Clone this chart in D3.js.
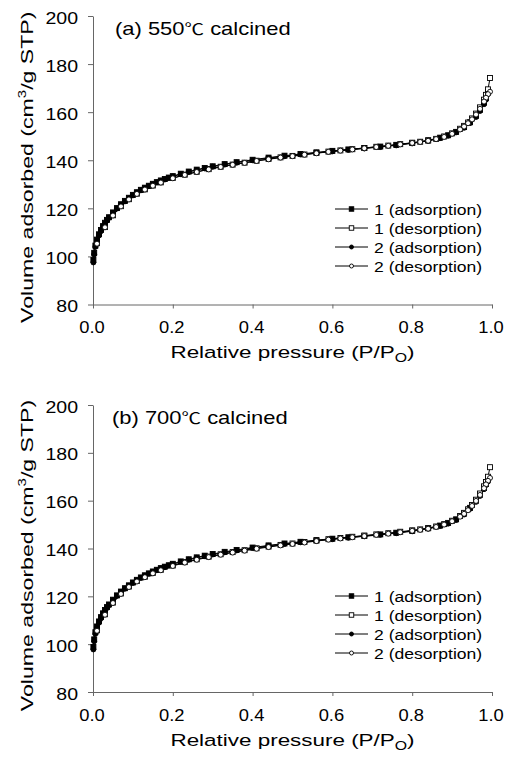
<!DOCTYPE html>
<html>
<head>
<meta charset="utf-8">
<script src="https://cdn.jsdelivr.net/npm/d3@7"></script>
<style>
  body { margin: 0; background: #fff; }
  svg { display: block; }
  text { font-family: "Liberation Sans", Arial, "Noto Sans CJK KR", sans-serif; fill: #000; }
</style>
</head>
<body>
<svg id="chart" width="505" height="764"></svg>
<script>
// ---------------- DATA ----------------
const xTicks = [0.0, 0.2, 0.4, 0.6, 0.8, 1.0];
const yTicks = [80, 100, 120, 140, 160, 180, 200];
const panelTitleParts = [["(a) 550", "\u2103", " calcined"], ["(b) 700", "\u2103", " calcined"]];
const legendLabels = ["1 (adsorption)", "1 (desorption)", "2 (adsorption)", "2 (desorption)"];

const adsP = [0.001, 0.003, 0.006, 0.01, 0.015, 0.02, 0.025, 0.03, 0.035, 0.04, 0.05, 0.06, 0.07, 0.08, 0.09, 0.10, 0.11, 0.12, 0.13, 0.14, 0.15, 0.16, 0.17, 0.18, 0.19, 0.20, 0.22, 0.24, 0.26, 0.28, 0.30, 0.33, 0.36, 0.40, 0.44, 0.48, 0.52, 0.56, 0.60, 0.64, 0.68, 0.72, 0.76, 0.80, 0.84, 0.87, 0.89, 0.91, 0.93, 0.945, 0.96, 0.97, 0.98, 0.985, 0.99];
const desP = [0.995, 0.99, 0.985, 0.98, 0.97, 0.96, 0.95, 0.94, 0.93, 0.92, 0.90, 0.88, 0.86, 0.84, 0.82, 0.80, 0.77, 0.74, 0.71, 0.68, 0.65, 0.62, 0.59, 0.56, 0.53, 0.50, 0.47, 0.44, 0.41, 0.38, 0.35, 0.32, 0.29, 0.26, 0.23, 0.20, 0.17, 0.15, 0.13, 0.11, 0.09, 0.07, 0.05, 0.03, 0.01];

// Panel (a) 550C
const a1Ads = [98.5, 101.5, 104.5, 107, 109.2, 111, 112.6, 114, 115.2, 116.3, 118.3, 120.1, 121.7, 123.1, 124.4, 125.6, 126.7, 127.7, 128.6, 129.4, 130.2, 130.9, 131.6, 132.2, 132.8, 133.4, 134.4, 135.3, 136.1, 136.8, 137.5, 138.4, 139.2, 140.2, 141.1, 141.9, 142.6, 143.3, 143.9, 144.5, 145.1, 145.7, 146.4, 147.2, 148.3, 149.4, 150.4, 151.8, 153.8, 155.8, 158.5, 161.0, 164.0, 166.0, 168.5];
const a1Des = [174.2, 169.5, 167.2, 165.2, 162.0, 159.4, 157.4, 155.7, 154.3, 153.1, 151.2, 149.9, 148.9, 148.2, 147.7, 147.3, 146.7, 146.1, 145.6, 145.1, 144.6, 144.1, 143.6, 143.0, 142.4, 141.8, 141.2, 140.5, 139.8, 139.0, 138.2, 137.3, 136.3, 135.2, 134.0, 132.6, 130.8, 129.5, 127.9, 126.1, 123.8, 120.9, 117.1, 112.2, 105.5];
const a2Ads = [97.5, 100.8, 104, 106.6, 108.8, 110.7, 112.3, 113.7, 115, 116.1, 118.1, 119.9, 121.5, 122.9, 124.2, 125.4, 126.5, 127.5, 128.4, 129.2, 130, 130.7, 131.4, 132.0, 132.6, 133.2, 134.2, 135.1, 135.9, 136.6, 137.3, 138.2, 139.0, 140.0, 140.9, 141.7, 142.4, 143.1, 143.7, 144.3, 144.9, 145.5, 146.2, 147.0, 148.1, 149.2, 150.2, 151.6, 153.5, 155.5, 158.0, 160.5, 163.3, 165.2, 167.5];
const a2Des = [168.5, 167.5, 166.0, 164.4, 161.4, 159.0, 157.0, 155.4, 154.0, 152.8, 151.0, 149.7, 148.8, 148.1, 147.6, 147.2, 146.6, 146.0, 145.5, 145.0, 144.5, 144.0, 143.5, 142.9, 142.3, 141.7, 141.1, 140.4, 139.7, 138.9, 138.1, 137.2, 136.2, 135.1, 133.9, 132.5, 130.7, 129.4, 127.8, 126.0, 123.7, 120.8, 117.0, 112.1, 105.3];

// Panel (b) 700C
const b1Ads = [98.8, 102.0, 105.0, 107.4, 109.5, 111.3, 112.9, 114.3, 115.5, 116.6, 118.6, 120.4, 122.0, 123.4, 124.6, 125.8, 126.9, 127.9, 128.8, 129.6, 130.4, 131.1, 131.8, 132.4, 133.0, 133.6, 134.6, 135.5, 136.3, 137.0, 137.7, 138.6, 139.4, 140.4, 141.3, 142.1, 142.8, 143.5, 144.1, 144.7, 145.3, 145.9, 146.6, 147.4, 148.5, 149.6, 150.7, 152.2, 154.6, 157.0, 160.0, 162.5, 165.3, 167.0, 169.0];
const b1Des = [174.0, 170.0, 167.8, 166.0, 163.0, 160.4, 158.2, 156.4, 154.9, 153.6, 151.6, 150.2, 149.2, 148.5, 148.0, 147.6, 147.0, 146.4, 145.9, 145.4, 144.9, 144.4, 143.9, 143.3, 142.7, 142.1, 141.5, 140.8, 140.1, 139.3, 138.5, 137.6, 136.6, 135.5, 134.3, 132.9, 131.1, 129.8, 128.2, 126.4, 124.1, 121.2, 117.4, 112.5, 105.8];
const b2Ads = [97.8, 101.2, 104.4, 107.0, 109.1, 111.0, 112.6, 114.0, 115.3, 116.4, 118.4, 120.2, 121.8, 123.2, 124.4, 125.6, 126.7, 127.7, 128.6, 129.4, 130.2, 130.9, 131.6, 132.2, 132.8, 133.4, 134.4, 135.3, 136.1, 136.8, 137.5, 138.4, 139.2, 140.2, 141.1, 141.9, 142.6, 143.3, 143.9, 144.5, 145.1, 145.7, 146.4, 147.2, 148.3, 149.4, 150.4, 151.9, 154.2, 156.6, 159.5, 162.0, 164.8, 166.5, 168.0];
const b2Des = [169.5, 168.3, 166.8, 165.2, 162.4, 159.9, 157.8, 156.0, 154.5, 153.3, 151.4, 150.0, 149.0, 148.3, 147.8, 147.4, 146.8, 146.2, 145.7, 145.2, 144.7, 144.2, 143.7, 143.1, 142.5, 141.9, 141.3, 140.6, 139.9, 139.1, 138.3, 137.4, 136.4, 135.3, 134.1, 132.7, 130.9, 129.6, 128.0, 126.2, 123.9, 121.0, 117.2, 112.3, 105.6];

// ---------------- LAYOUT ----------------
const svg = d3.select("#chart");

const panels = [
  { top: 16, bottom: 304.5, left: 93, right: 492, title: panelTitleParts[0], titleDx: 22, legendY: 209,
    series: [
      { p: adsP, v: a1Ads, shape: "square", fill: "#000" },
      { p: desP, v: a1Des, shape: "square", fill: "#fff" },
      { p: adsP, v: a2Ads, shape: "circle", fill: "#000" },
      { p: desP, v: a2Des, shape: "circle", fill: "#fff" }
    ] },
  { top: 405, bottom: 692, left: 93, right: 492, title: panelTitleParts[1], titleDx: 19, legendY: 596,
    series: [
      { p: adsP, v: b1Ads, shape: "square", fill: "#000" },
      { p: desP, v: b1Des, shape: "square", fill: "#fff" },
      { p: adsP, v: b2Ads, shape: "circle", fill: "#000" },
      { p: desP, v: b2Des, shape: "circle", fill: "#fff" }
    ] }
];

function drawMarker(g, shape, fill, cx, cy, s) {
  if (shape === "square") {
    g.append("rect").attr("x", cx - s / 2).attr("y", cy - s / 2).attr("width", s).attr("height", s)
      .attr("fill", fill).attr("stroke", "#000").attr("stroke-width", 0.9);
  } else {
    g.append("circle").attr("cx", cx).attr("cy", cy).attr("r", s / 2)
      .attr("fill", fill).attr("stroke", "#000").attr("stroke-width", 0.9);
  }
}

panels.forEach(pn => {
  const x = d3.scaleLinear().domain([0, 1]).range([pn.left, pn.right]);
  const y = d3.scaleLinear().domain([80, 200]).range([pn.bottom, pn.top]);
  const g = svg.append("g");

  // axes
  const yAxis = d3.axisLeft(y).tickValues(yTicks).tickSize(5).tickSizeOuter(0).tickFormat(d3.format("d"));
  const gy = g.append("g").attr("transform", `translate(${pn.left},0)`).call(yAxis);
  const xAxis = d3.axisBottom(x).tickValues(xTicks).tickSize(4).tickSizeOuter(0).tickFormat(d3.format(".1f"));
  const gx = g.append("g").attr("transform", `translate(0,${pn.bottom})`).call(xAxis);
  [gx, gy].forEach(a => {
    a.select(".domain").attr("stroke", "#666").attr("stroke-width", 1);
    a.selectAll(".tick line").attr("stroke", "#666");
    a.selectAll(".tick text").attr("font-family", null).attr("font-size", 17).attr("fill", "#000");
  });
  gy.selectAll(".tick text").attr("x", null).attr("dy", null)
    .attr("transform", "translate(-15,7) scale(1.15,1)");
  gx.selectAll(".tick text").attr("y", null).attr("dy", null)
    .attr("transform", "translate(-1.5,28.5) scale(1.08,1)");

  // axis titles
  const xt = g.append("text")
    .attr("transform", `translate(${(pn.left + pn.right) / 2},${pn.bottom + 53.5}) scale(1.32,1)`)
    .attr("text-anchor", "middle").attr("font-size", 17);
  xt.append("tspan").text("Relative pressure (P/P");
  xt.append("tspan").attr("font-size", 12).attr("dy", 4).text("O");
  xt.append("tspan").attr("dy", -4).text(")");

  const yt = g.append("text")
    .attr("transform", `translate(33,${(pn.top + pn.bottom) / 2 + 7}) rotate(-90) scale(1.36,1)`)
    .attr("text-anchor", "middle").attr("font-size", 17);
  yt.append("tspan").text("Volume adsorbed (cm");
  yt.append("tspan").attr("font-size", 11).attr("dy", -7).text("3");
  yt.append("tspan").attr("dy", 7).text("/g STP)");

  // panel title
  const tt = g.append("text")
    .attr("transform", `translate(${pn.left + pn.titleDx},${pn.top + 19}) scale(1.22,1)`)
    .attr("font-size", 18);
  tt.append("tspan").text(pn.title[0]);
  tt.append("tspan").attr("font-family", "'Noto Sans CJK KR', 'Noto Sans CJK SC', sans-serif").attr("font-size", 16).text(pn.title[1]);
  tt.append("tspan").text(pn.title[2]);

  // series lines + markers
  const line = d3.line().x(d => x(d[0])).y(d => y(d[1]));
  pn.series.forEach(s => {
    const pts = s.p.map((p, i) => [p, s.v[i]]);
    g.append("path").datum(pts).attr("d", line).attr("fill", "none").attr("stroke", "#000").attr("stroke-width", 1);
  });
  pn.series.forEach(s => {
    const mg = g.append("g");
    s.p.forEach((p, i) => drawMarker(mg, s.shape, s.fill, x(p), y(s.v[i]), 5));
  });

  // legend
  const lg = g.append("g");
  legendLabels.forEach((lab, i) => {
    const ly = pn.legendY + i * 19;
    const s = pn.series[i];
    lg.append("line").attr("x1", 335).attr("x2", 368).attr("y1", ly).attr("y2", ly).attr("stroke", "#000").attr("stroke-width", 1);
    drawMarker(lg, s.shape, s.fill, 351.5, ly, s.shape === "square" ? 4.5 : 4);
    lg.append("text")
      .attr("transform", `translate(374,${ly + 5.5}) scale(1.17,1)`)
      .attr("font-size", 15).text(lab);
  });
});
</script>
</body>
</html>
